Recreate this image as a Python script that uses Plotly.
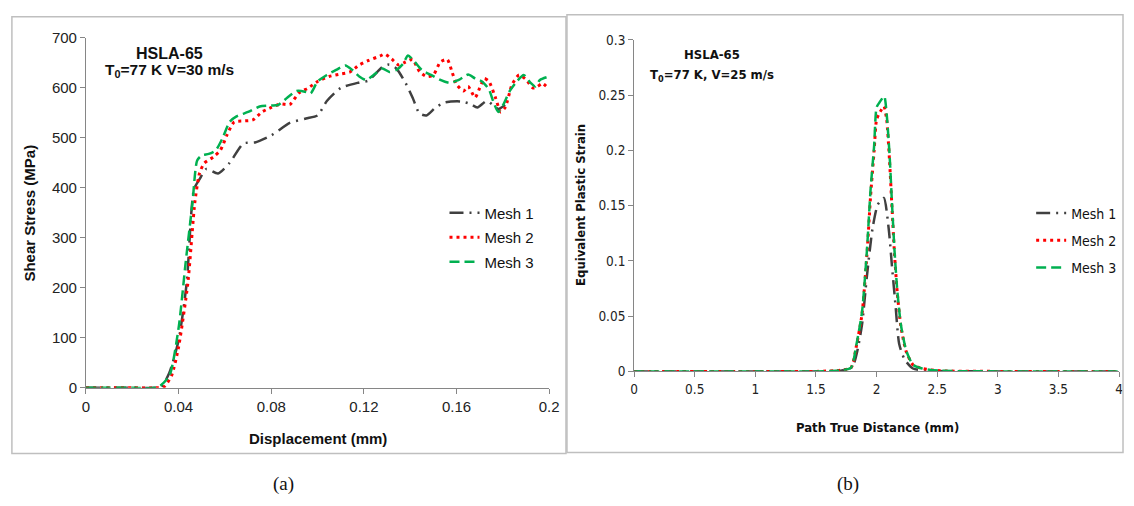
import plotly.graph_objects as go

W, H = 1134, 506

# ---------- (a) Shear stress vs displacement ----------
m1_x = [0, 0.01, 0.02, 0.03, 0.0326, 0.036, 0.04, 0.0435, 0.0466, 0.049, 0.052, 0.057, 0.062, 0.068, 0.073,
        0.08, 0.088, 0.095, 0.1, 0.104, 0.11, 0.118, 0.122, 0.128, 0.131, 0.134, 0.138, 0.141, 0.144,
        0.147, 0.151, 0.155, 0.162, 0.166, 0.169, 0.173, 0.176, 0.178, 0.181]
m1_y = [0, 0, 0, 0, 2, 30, 95, 210, 397, 417, 438, 429, 450, 489, 491,
        505, 530, 539, 545, 574, 600, 611, 615, 642, 647, 639, 610, 581, 549,
        545, 561, 571, 573, 568, 561, 574, 565, 558, 566]

m2_x = [0, 0.01, 0.02, 0.03, 0.0337, 0.037, 0.04, 0.044, 0.047, 0.049, 0.051, 0.055, 0.058, 0.061, 0.064,
        0.068, 0.072, 0.076, 0.08, 0.084, 0.088, 0.092, 0.096, 0.1, 0.105, 0.11, 0.114, 0.118, 0.122,
        0.127, 0.129, 0.132, 0.135, 0.138, 0.141, 0.144, 0.147, 0.15, 0.153, 0.156, 0.158, 0.16,
        0.163, 0.165, 0.168, 0.17, 0.172, 0.174, 0.177, 0.179, 0.181, 0.184, 0.187, 0.19, 0.193,
        0.195, 0.197, 0.2]
m2_y = [0, 0, 0, 0, 2, 25, 82, 210, 371, 429, 449, 462, 475, 507, 532,
        534, 536, 552, 561, 568, 567, 590, 600, 613, 623, 628, 632, 646, 655,
        664, 668, 658, 646, 652, 657, 633, 623, 626, 652, 657, 633, 607,
        594, 603, 581, 600, 619, 613, 578, 552, 561, 607, 626, 617, 600,
        603, 609, 598]

m3_x = [0, 0.01, 0.02, 0.031, 0.036, 0.04, 0.043, 0.046, 0.048, 0.05, 0.053, 0.056, 0.059, 0.062, 0.065,
        0.07, 0.075, 0.08, 0.083, 0.087, 0.091, 0.095, 0.097, 0.1, 0.104, 0.108, 0.112, 0.115, 0.118,
        0.121, 0.125, 0.128, 0.131, 0.134, 0.137, 0.139, 0.142, 0.145, 0.149, 0.153, 0.157, 0.161,
        0.165, 0.168, 0.171, 0.174, 0.176, 0.178, 0.18, 0.183, 0.186, 0.189, 0.192, 0.194, 0.196, 0.2]
m3_y = [0, 0, 0, 1, 24, 120, 249, 371, 455, 465, 468, 475, 500, 532, 543,
        552, 563, 565, 566, 581, 594, 592, 589, 613, 626, 636, 645, 636, 623,
        616, 629, 639, 632, 636, 649, 665, 652, 636, 626, 616, 610, 616,
        627, 619, 613, 597, 571, 552, 565, 594, 613, 626, 610, 603, 616, 623]

# ---------- (b) Equivalent plastic strain vs path distance ----------
p1_x = [0, 0.5, 1, 1.5, 1.7, 1.8, 1.84, 1.88, 1.92, 1.966, 2.01, 2.06, 2.1, 2.127, 2.156, 2.186,
        2.23, 2.3, 2.4, 2.5, 3, 3.5, 4]
p1_y = [0, 0, 0, 0, 0.0005, 0.004, 0.018, 0.0425, 0.086, 0.129, 0.151, 0.157, 0.129, 0.095, 0.06, 0.025,
        0.011, 0.0026, 0.0008, 0.0003, 0, 0, 0]

p2_x = [0, 0.5, 1, 1.5, 1.7, 1.79, 1.835, 1.88, 1.92, 1.95, 1.98, 2.0, 2.03, 2.06, 2.083, 2.107,
        2.127, 2.148, 2.17, 2.2, 2.244, 2.3, 2.376, 2.52, 3, 3.5, 4]
p2_y = [0, 0, 0, 0, 0.001, 0.0035, 0.024, 0.052, 0.105, 0.158, 0.2, 0.228, 0.235, 0.24, 0.228, 0.19,
        0.148, 0.106, 0.072, 0.041, 0.018, 0.006, 0.0026, 0.0006, 0, 0, 0]

p3_x = [0, 0.5, 1, 1.5, 1.7, 1.79, 1.835, 1.88, 1.92, 1.95, 1.98, 2.0, 2.025, 2.063, 2.083, 2.107,
        2.127, 2.148, 2.17, 2.2, 2.244, 2.3, 2.376, 2.52, 3, 3.5, 4]
p3_y = [0, 0, 0, 0, 0.001, 0.0035, 0.025, 0.054, 0.109, 0.164, 0.2045, 0.239, 0.2436, 0.249, 0.233, 0.196,
        0.152, 0.109, 0.074, 0.0425, 0.019, 0.006, 0.0026, 0.0006, 0, 0, 0]

names = ["Mesh 1", "Mesh 2", "Mesh 3"]
x_ticks_a = [0, 0.04, 0.08, 0.12, 0.16, 0.2]
x_labels_a = ["0", "0.04", "0.08", "0.12", "0.16", "0.2"]
y_ticks_a = [0, 100, 200, 300, 400, 500, 600, 700]
x_ticks_b = [0, 0.5, 1, 1.5, 2, 2.5, 3, 3.5, 4]
x_labels_b = ["0", "0.5", "1", "1.5", "2", "2.5", "3", "3.5", "4"]
y_ticks_b = [0, 0.05, 0.1, 0.15, 0.2, 0.25, 0.3]
y_labels_b = ["0", "0.05", "0.1", "0.15", "0.2", "0.25", "0.3"]

GRAY = "#404040"
RED = "#FF0000"
GREEN = "#00B050"
ARIAL = "Liberation Sans, Arial, sans-serif"
CAL = "DejaVu Sans Condensed, Liberation Sans Narrow, Roboto, sans-serif"

styles = [dict(color=GRAY, width=2.5, dash="14px,6px,2px,6px"),
          dict(color=RED, width=3, dash="3px,4px"),
          dict(color=GREEN, width=2.5, dash="10px,5px")]

fig = go.Figure()
for i, ((xs, ys), nm, st) in enumerate(zip([(m1_x, m1_y), (m2_x, m2_y), (m3_x, m3_y)], names, styles)):
    fig.add_trace(go.Scatter(x=xs, y=ys, name=nm, mode="lines", legendgroup="a%d" % i,
                             line=dict(shape="spline", smoothing=0.6, **st),
                             xaxis="x", yaxis="y", legend="legend"))
for i, ((xs, ys), nm, st) in enumerate(zip([(p1_x, p1_y), (p2_x, p2_y), (p3_x, p3_y)], names, styles)):
    fig.add_trace(go.Scatter(x=xs, y=ys, name=nm, mode="lines", legendgroup="b%d" % i,
                             line=dict(shape="spline", smoothing=0.6, **st),
                             xaxis="x2", yaxis="y2", legend="legend2"))

def px(x):
    return x / W

def py(y):
    return 1 - y / H

axis_common = dict(showgrid=False, zeroline=False, showline=True, linecolor="#868686", linewidth=1,
                   ticks="outside", ticklen=5, tickcolor="#868686", mirror=False)

fig.update_layout(
    width=W, height=H, margin=dict(l=0, r=0, t=0, b=0),
    paper_bgcolor="white", plot_bgcolor="white",
    xaxis=dict(domain=[px(83), px(552)], range=[0, 0.2], tickvals=x_ticks_a, ticktext=x_labels_a,
               anchor="y", tickfont=dict(family=ARIAL, size=15, color="#222"), **axis_common),
    yaxis=dict(domain=[py(392), py(30)], range=[0, 700], tickvals=y_ticks_a,
               anchor="x", tickfont=dict(family=ARIAL, size=15, color="#222"), **axis_common),
    xaxis2=dict(domain=[px(638), px(1129)], range=[0, 4], tickvals=x_ticks_b, ticktext=x_labels_b,
                anchor="y2", tickfont=dict(family=CAL, size=13.5, color="#222"), **axis_common),
    yaxis2=dict(domain=[py(375), py(32)], range=[0, 0.3], tickvals=y_ticks_b, ticktext=y_labels_b,
                anchor="x2", tickfont=dict(family=CAL, size=13.5, color="#222"), **axis_common),
    legend=dict(x=px(446), y=py(194), xanchor="left", yanchor="top", bgcolor="rgba(0,0,0,0)",
                font=dict(family=ARIAL, size=15, color="#111"), tracegroupgap=2, itemwidth=30),
    legend2=dict(x=px(1040), y=py(195), xanchor="left", yanchor="top", bgcolor="rgba(0,0,0,0)",
                 font=dict(family=CAL, size=14, color="#111"), tracegroupgap=6, itemwidth=30),
    showlegend=True,
)

ann = [
    dict(x=px(168), y=py(46), text="<b>HSLA-65</b>", font=dict(family=ARIAL, size=16, color="#111")),
    dict(x=px(168), y=py(64), text="<b>T<sub>0</sub>=77 K V=30 m/s</b>", font=dict(family=ARIAL, size=15.5, color="#111")),
    dict(x=px(717), y=py(47), text="<b>HSLA-65</b>", font=dict(family=CAL, size=13, color="#111")),
    dict(x=px(717), y=py(69), text="<b>T<sub>0</sub>=77 K, V=25 m/s</b>", font=dict(family=CAL, size=13, color="#111")),
    dict(x=px(318), y=py(444), text="<b>Displacement (mm)</b>", font=dict(family=ARIAL, size=15, color="#111")),
    dict(x=px(26), y=py(211), text="<b>Shear Stress (MPa)</b>", textangle=-90, font=dict(family=ARIAL, size=15, color="#111")),
    dict(x=px(884), y=py(433), text="<b>Path True Distance (mm)</b>", font=dict(family=CAL, size=13, color="#111")),
    dict(x=px(583), y=py(203), text="<b>Equivalent Plastic Strain</b>", textangle=-90, font=dict(family=CAL, size=13, color="#111")),
    dict(x=px(283), y=py(491), text="(a)", font=dict(family="Liberation Serif, Times New Roman, serif", size=19, color="#111")),
    dict(x=px(855), y=py(491), text="(b)", font=dict(family="Liberation Serif, Times New Roman, serif", size=19, color="#111")),
]
for a in ann:
    a.update(xref="paper", yref="paper", showarrow=False, xanchor="center", yanchor="middle")
fig.update_layout(annotations=ann)

fig.update_layout(shapes=[
    dict(type="rect", xref="paper", yref="paper", x0=px(8), x1=px(569), y0=py(460), y1=py(8),
         line=dict(color="#BFBFBF", width=1.5)),
    dict(type="rect", xref="paper", yref="paper", x0=px(570), x1=px(1133), y0=py(459), y1=py(6),
         line=dict(color="#BFBFBF", width=1.5)),
])

fig.write_html("out.html")
